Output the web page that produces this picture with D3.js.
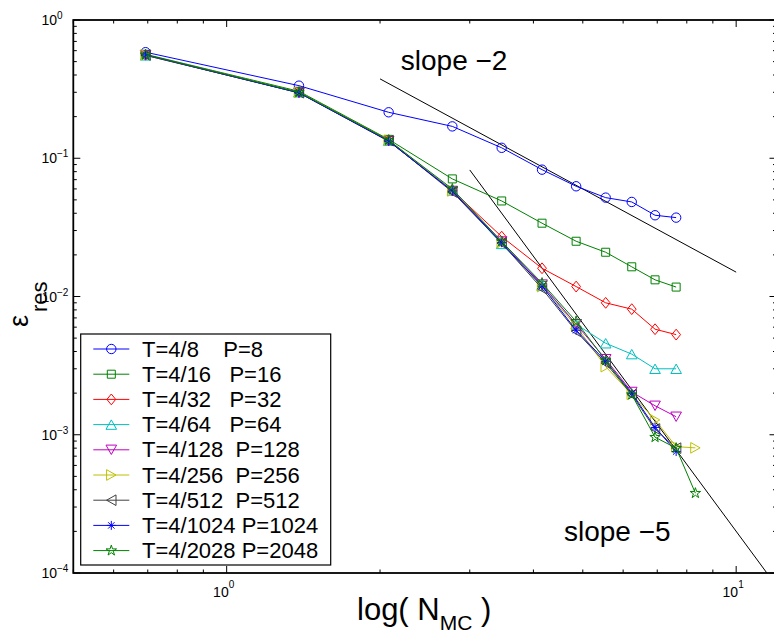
<!DOCTYPE html>
<html>
<head>
<meta charset="utf-8">
<script src="https://cdn.jsdelivr.net/npm/d3@7"></script>
<style>
  html, body { margin: 0; padding: 0; background: #fff; }
  svg { display: block; font-family: "Liberation Sans", Arial, Helvetica, sans-serif; }
</style>
</head>
<body>
<svg id="chart" width="774" height="637"></svg>
<script>
// Abscissa: log(N_MC) for N_MC = 2, 4, ..., 4096
const logN = [0.6931, 1.3863, 2.0794, 2.7726, 3.4657, 4.1589, 4.8520, 5.5452, 6.2383, 6.9315, 7.6246, 8.3178];

const seriesNames = [
  "T=4/8    P=8",
  "T=4/16   P=16",
  "T=4/32   P=32",
  "T=4/64   P=64",
  "T=4/128  P=128",
  "T=4/256  P=256",
  "T=4/512  P=512",
  "T=4/1024 P=1024",
  "T=4/2028 P=2048"
];

// Residual error per run
const res8    = [0.585, 0.335, 0.215, 0.170, 0.119, 0.0827, 0.0627, 0.0519, 0.0483, 0.0387, 0.0372];
const res16   = [0.565, 0.305, 0.137, 0.0709, 0.0491, 0.0339, 0.0251, 0.0209, 0.0164, 0.0132, 0.0117];
const res32   = [0.560, 0.300, 0.135, 0.0585, 0.0271, 0.0160, 0.0118, 0.0090, 0.0081, 0.0058, 0.0053];
const res64   = [0.555, 0.300, 0.134, 0.0585, 0.0240, 0.0120, 0.0063, 0.00459, 0.00383, 0.00300, 0.00300];
const res128  = [0.555, 0.298, 0.133, 0.0580, 0.0250, 0.0122, 0.0063, 0.00352, 0.00204, 0.00162, 0.00135];
const res256  = [0.560, 0.300, 0.135, 0.0580, 0.0245, 0.0118, 0.0061, 0.00311, 0.00196, 0.00128, 0.00082, 0.000804];
const res512  = [0.558, 0.298, 0.134, 0.0570, 0.0243, 0.0114, 0.0056, 0.00330, 0.00195, 0.00110, 0.00080];
const res1024 = [0.560, 0.297, 0.133, 0.0580, 0.0245, 0.0119, 0.0057, 0.00340, 0.00200, 0.00113, 0.000756];
const res2048 = [0.560, 0.300, 0.135, 0.0600, 0.0250, 0.0125, 0.0066, 0.00345, 0.00195, 0.00096, 0.00080, 0.000378];

const seriesValues = [res8, res16, res32, res64, res128, res256, res512, res1024, res2048];

// Reference slopes (end points of the guide lines)
const guide2X = [2, 10];
const guide2Y = [0.375, 0.015];
const guide5X = [3, 11.49];
const guide5Y = [0.0823, 0.0001];

// Look of each run
const seriesStyles = [
  { color: "#0000ff", marker: "circle" },
  { color: "#008000", marker: "square" },
  { color: "#ff0000", marker: "diamond" },
  { color: "#00bfbf", marker: "triUp" },
  { color: "#bf00bf", marker: "triDown" },
  { color: "#bfbf00", marker: "triRight" },
  { color: "#404040", marker: "triLeft" },
  { color: "#0000ff", marker: "asterisk" },
  { color: "#008000", marker: "star" }
];

const svg = d3.select("#chart");
const plot = { left: 73.3, right: 776.5, top: 20, bottom: 573 };

const x = d3.scaleLog().domain([0.5, 12]).range([plot.left, plot.right]);
const y = d3.scaleLog().domain([1e-4, 1]).range([plot.bottom, plot.top]);

function markerPath(kind) {
  switch (kind) {
    case "circle":  return d3.symbol(d3.symbolCircle, Math.PI * 4.7 * 4.7)();
    case "square":  return d3.symbol(d3.symbolSquare, 64)();
    case "star":    return d3.symbol(d3.symbolStar, 34)();
    case "diamond": return "M0,-5.4L4.4,0L0,5.4L-4.4,0Z";
    case "triUp":   return "M0,-4.7L5.3,4.7L-5.3,4.7Z";
    case "triDown": return "M0,4.7L5.3,-4.7L-5.3,-4.7Z";
    case "triRight":return "M4.7,0L-4.7,-5.3L-4.7,5.3Z";
    case "triLeft": return "M-4.7,0L4.7,-5.3L4.7,5.3Z";
    case "asterisk":return "M0,-4.5L0,4.5M-4.5,0L4.5,0M-3.2,-3.2L3.2,3.2M-3.2,3.2L3.2,-3.2";
  }
}

// ---- Axes frame and ticks ----
const allX = x.ticks();
const allY = y.ticks();
const isMajor = v => Math.abs(Math.log10(v) - Math.round(Math.log10(v))) < 1e-9;
const majLen = 7, minLen = 3.5;

const ticks = svg.append("g").attr("stroke", "#000").attr("stroke-width", 1);
allX.forEach(v => {
  const px = x(v), L = isMajor(v) ? majLen : minLen;
  ticks.append("line").attr("x1", px).attr("x2", px).attr("y1", plot.bottom).attr("y2", plot.bottom - L);
  ticks.append("line").attr("x1", px).attr("x2", px).attr("y1", plot.top).attr("y2", plot.top + L);
});
allY.forEach(v => {
  const py = y(v), L = isMajor(v) ? majLen : minLen;
  ticks.append("line").attr("x1", plot.left).attr("x2", plot.left + L).attr("y1", py).attr("y2", py);
  ticks.append("line").attr("x1", plot.right).attr("x2", plot.right - L).attr("y1", py).attr("y2", py);
});

svg.append("rect")
  .attr("x", plot.left).attr("y", plot.top)
  .attr("width", plot.right - plot.left).attr("height", plot.bottom - plot.top)
  .attr("fill", "none").attr("stroke", "#000").attr("stroke-width", 1.8);

// Tick labels: 10 with a raised exponent
const expStr = v => { const e = Math.round(Math.log10(v)); return e < 0 ? "\u2212" + (-e) : String(e); };
allY.filter(isMajor).forEach(v => {
  const py = y(v);
  svg.append("text").attr("x", 57).attr("y", py + 5).attr("text-anchor", "end")
    .attr("font-size", 14).text("10");
  svg.append("text").attr("x", 57).attr("y", py - 1).attr("text-anchor", "start")
    .attr("font-size", 10).text(expStr(v));
});
allX.filter(isMajor).forEach(v => {
  const px = x(v);
  const g = svg.append("text").attr("x", px - 3).attr("y", 596.7).attr("text-anchor", "middle").attr("font-size", 14);
  g.append("tspan").text("10");
  g.append("tspan").attr("font-size", 10).attr("dy", -9).text(expStr(v));
});

// Axis titles
const xt = svg.append("text").attr("x", 357).attr("y", 620).attr("font-size", 31);
xt.append("tspan").text("log( N");
xt.append("tspan").attr("font-size", 21).attr("dy", 10).text("MC");
xt.append("tspan").attr("dy", -10).style("white-space", "pre").text(" )");

const yt = svg.append("text").attr("transform", "translate(28,327) rotate(-90)").attr("font-size", 27);
yt.append("tspan").text("\u03b5");
yt.append("tspan").attr("font-size", 22).attr("dy", 19).attr("dx", 3).text("res");

// ---- Guide lines ----
const guide = d3.line().x(d => x(d[0])).y(d => y(d[1]));
svg.append("path").attr("d", guide(d3.zip(guide2X, guide2Y)))
  .attr("fill", "none").attr("stroke", "#000").attr("stroke-width", 1);
svg.append("path").attr("d", guide(d3.zip(guide5X, guide5Y)))
  .attr("fill", "none").attr("stroke", "#000").attr("stroke-width", 1);

svg.append("text").attr("x", 400.8).attr("y", 70).attr("font-size", 28).style("white-space", "pre").text("slope \u22122");
svg.append("text").attr("x", 564).attr("y", 540.7).attr("font-size", 28).style("white-space", "pre").text("slope \u22125");

// ---- Data series ----
const line = d3.line().x(d => x(d[0])).y(d => y(d[1]));
seriesValues.forEach((vals, i) => {
  const st = seriesStyles[i];
  const pts = vals.map((v, k) => [logN[k], v]);
  const g = svg.append("g");
  g.append("path").attr("d", line(pts))
    .attr("fill", "none").attr("stroke", st.color).attr("stroke-width", 1);
  g.selectAll("path.m").data(pts).join("path").attr("class", "m")
    .attr("transform", d => `translate(${x(d[0])},${y(d[1])})`)
    .attr("d", markerPath(st.marker))
    .attr("fill", "none").attr("stroke", st.color).attr("stroke-width", 1);
});

// ---- Legend ----
const leg = svg.append("g");
leg.append("rect").attr("x", 80.7).attr("y", 334).attr("width", 250).attr("height", 231)
  .attr("fill", "#fff").attr("stroke", "#000").attr("stroke-width", 1.2);
seriesNames.forEach((name, i) => {
  const st = seriesStyles[i];
  const cy = 349 + i * 25.2;
  leg.append("line").attr("x1", 93.3).attr("x2", 129.3).attr("y1", cy).attr("y2", cy)
    .attr("stroke", st.color).attr("stroke-width", 1);
  leg.append("path").attr("transform", `translate(111.3,${cy})`).attr("d", markerPath(st.marker))
    .attr("fill", "none").attr("stroke", st.color).attr("stroke-width", 1);
  leg.append("text").attr("x", 142).attr("y", cy + 7.6).attr("font-size", 22)
    .style("white-space", "pre").text(name);
});
</script>
</body>
</html>
